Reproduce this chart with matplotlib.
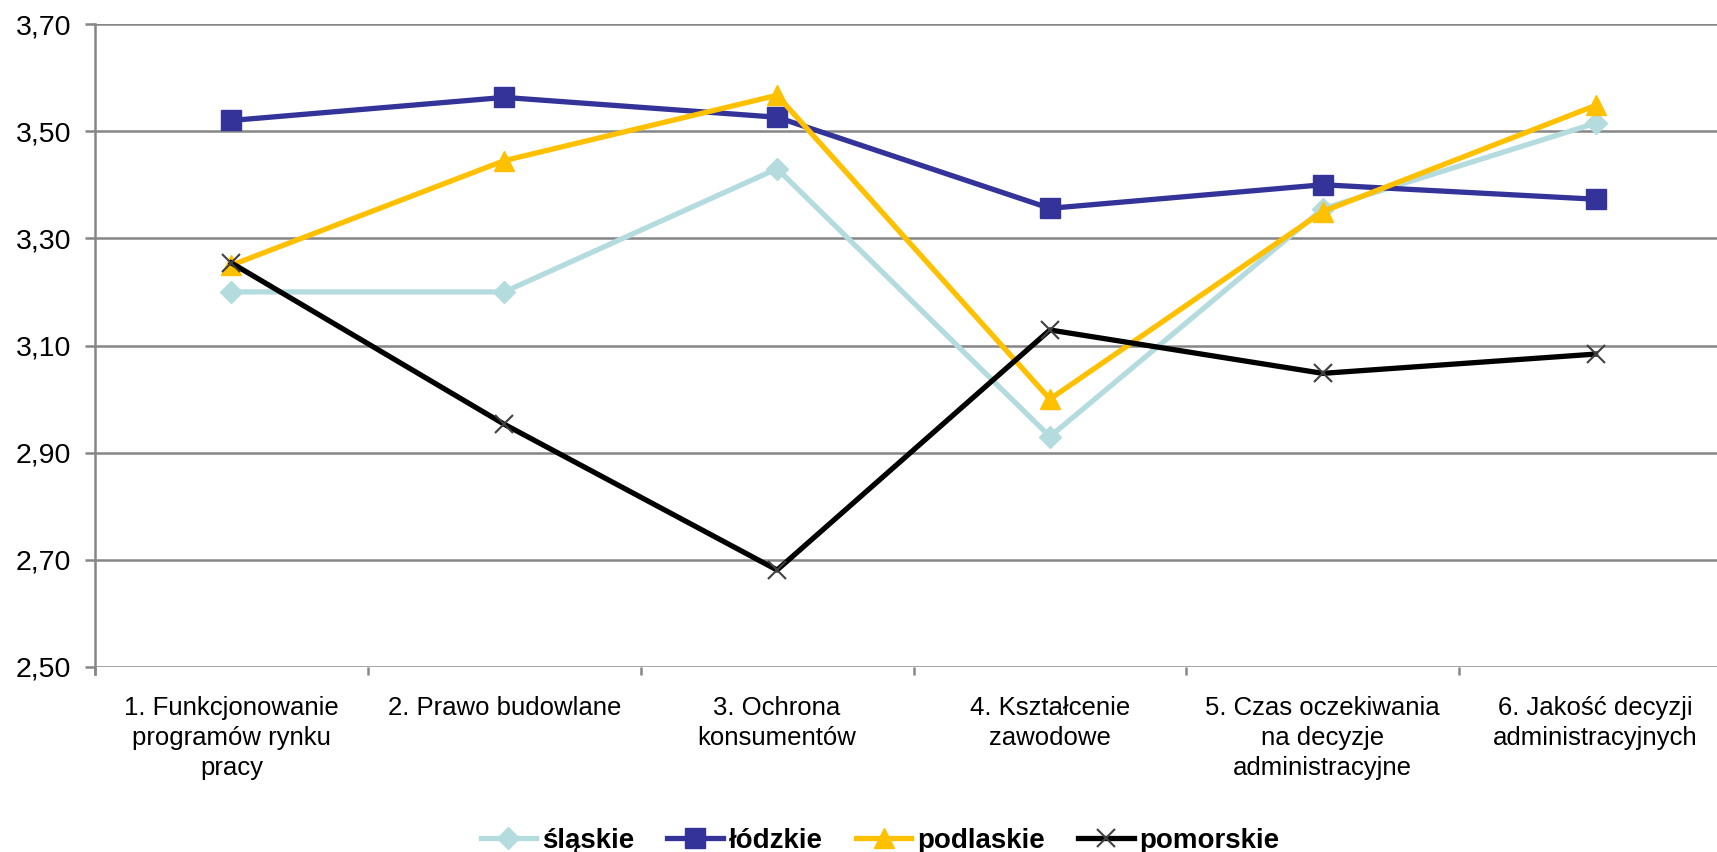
import matplotlib
matplotlib.use('Agg')
import matplotlib.pyplot as plt
import numpy as np

# ── Data ──────────────────────────────────────────────────
categories = [
    '1. Funkcjonowanie\nprogramów rynku\npracy',
    '2. Prawo budowlane',
    '3. Ochrona\nkonsumentów',
    '4. Kształcenie\nzawodowe',
    '5. Czas oczekiwania\nna decyzje\nadministracyjne',
    '6. Jakość decyzji\nadministracyjnych',
]
slaskie   = [3.20, 3.20, 3.43, 2.93, 3.355, 3.515]
lodzkie   = [3.52, 3.563, 3.526, 3.356, 3.40, 3.373]
podlaskie = [3.25, 3.445, 3.567, 3.00, 3.35, 3.548]
pomorskie = [3.254, 2.953, 2.681, 3.129, 3.048, 3.084]
series_names = ['śląskie', 'łódzkie', 'podlaskie', 'pomorskie']
y_ticks = [2.50, 2.70, 2.90, 3.10, 3.30, 3.50, 3.70]

# ── Style ─────────────────────────────────────────────────
plt.rcParams['font.family'] = ['Liberation Sans', 'DejaVu Sans']
GRID = '#868686'

fig = plt.figure(figsize=(17.17, 8.52), dpi=100)
ax = fig.add_axes([95 / 1717, 1 - 667 / 852, 1637 / 1717, 643 / 852])

x = np.arange(len(categories))
ax.plot(x, slaskie, color='#B4DCDF', lw=3.8, marker='D', ms=11,
        label=series_names[0], zorder=3)
ax.plot(x, lodzkie, color='#333399', lw=3.8, marker='s', ms=14,
        label=series_names[1], zorder=4)
ax.plot(x, podlaskie, color='#FFC000', lw=3.8, marker='^', ms=15,
        label=series_names[2], zorder=5)
ax.plot(x, pomorskie, color='black', lw=3.8, marker='x', ms=13,
        mec='#404040', mew=1.5, label=series_names[3], zorder=6)

ax.set_xlim(-0.5, len(categories) - 0.5)
ax.set_ylim(2.50, 3.70)
ax.set_yticks(y_ticks)
ax.set_yticklabels([f'{v:.2f}'.replace('.', ',') for v in y_ticks], fontsize=20.5)
ax.yaxis.grid(True, color=GRID, lw=1.8)
ax.set_axisbelow(True)

# category boundaries as major ticks, names on minor ticks
ax.set_xticks(np.arange(-0.5, len(categories), 1))
ax.set_xticklabels([])
ax.set_xticks(x, minor=True)
ax.set_xticklabels(categories, minor=True, fontsize=18.5, linespacing=1.3, va='top')
ax.tick_params(axis='x', which='minor', length=0, pad=21)
ax.tick_params(axis='x', which='major', length=6, width=1.8, color=GRID)
ax.tick_params(axis='y', length=7, width=1.8, color=GRID, pad=10)

for s in ['top', 'right', 'bottom']:
    ax.spines[s].set_visible(False)
ax.spines['left'].set_color(GRID)
ax.spines['left'].set_linewidth(1.8)
ax.spines['left'].set_bounds(2.50 - 0.013, 3.70)

fig.legend(loc='center', bbox_to_anchor=(880 / 1717, 1 - 841 / 852), ncol=4,
           frameon=False, handlelength=2.0, handletextpad=0.2, columnspacing=1.2,
           prop={'weight': 'bold', 'size': 20})

fig.savefig('out.png', dpi=100)
